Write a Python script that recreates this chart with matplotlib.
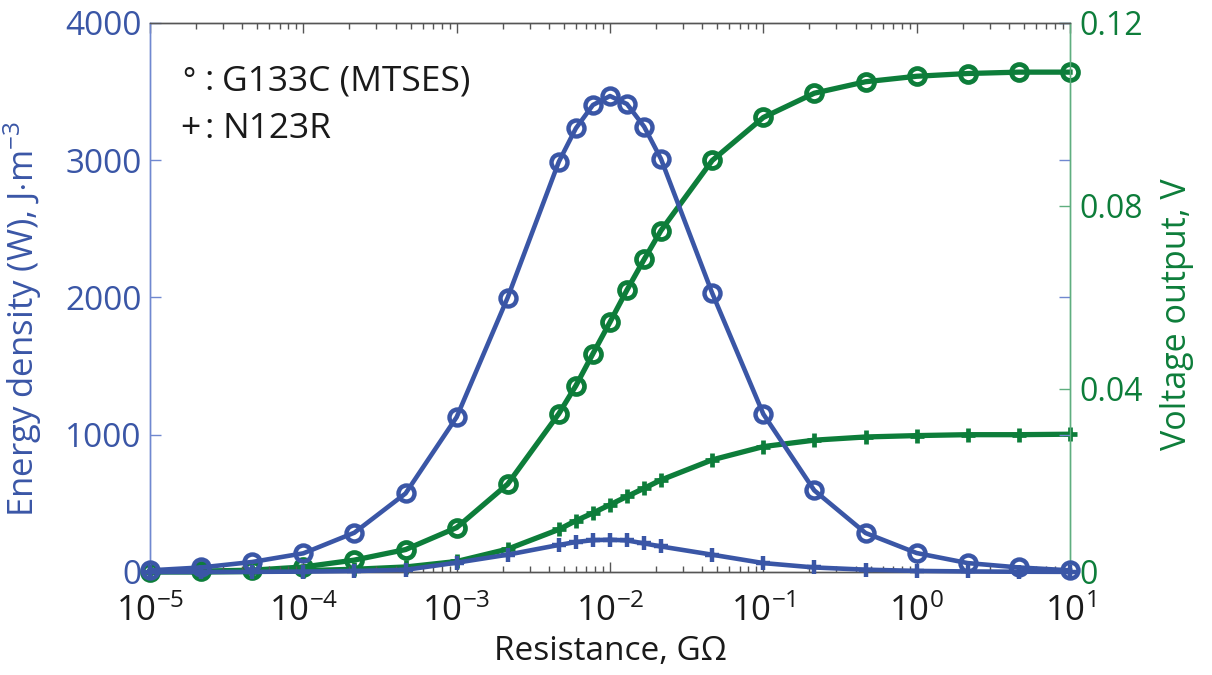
import math
import matplotlib
matplotlib.use("Agg")
import matplotlib.pyplot as plt
from matplotlib.ticker import LogLocator, FixedLocator, NullFormatter, FuncFormatter

# ---- data ----
resistance = [1e-5, 2.15e-5, 4.64e-5, 1e-4, 2.15e-4, 4.64e-4, 1e-3, 2.15e-3,
              4.64e-3, 5.99e-3, 7.74e-3, 1e-2, 1.29e-2, 1.67e-2, 2.15e-2,
              4.64e-2, 1e-1, 2.15e-1, 4.64e-1, 1.0, 2.15, 4.64, 10.0]
energy_g133c = [12, 33, 73, 136, 286, 572, 1128, 1998,
                2988, 3231, 3401, 3466, 3408, 3243, 3008,
                2031, 1150, 594, 284, 138, 65, 33, 12]
energy_n123r = [0.1, 0.3, 1, 3, 7, 16, 68, 126,
                197, 218, 232, 235, 230, 208, 186,
                126, 65, 33, 17, 8, 4, 2, 1]
voltage_g133c = [0.0001, 0.0002, 0.0004, 0.0011, 0.0026, 0.0049, 0.0097, 0.0192,
                 0.0346, 0.0407, 0.0477, 0.0546, 0.0616, 0.0683, 0.0746,
                 0.0899, 0.0993, 0.1046, 0.1071, 0.1083, 0.1089, 0.1092, 0.1092]
voltage_n123r = [0.0, 0.0, 0.0001, 0.0003, 0.0006, 0.0011, 0.0023, 0.0050,
                 0.0093, 0.0112, 0.0129, 0.0147, 0.0165, 0.0183, 0.0201,
                 0.0245, 0.0274, 0.0288, 0.0295, 0.0298, 0.0300, 0.0300, 0.0301]
x_major_ticks = [1e-5, 1e-4, 1e-3, 1e-2, 1e-1, 1, 10]
left_ticks = [0, 1000, 2000, 3000, 4000]
right_ticks = [0, 0.04, 0.08, 0.12]
right_tick_labels = ["0", "0.04", "0.08", "0.12"]

BLUE = "#3a56a6"
GREEN = "#0d7d3a"
TXT = "#1a1a1a"
FONT = "Open Sans"

plt.rcParams['font.family'] = [FONT, 'DejaVu Sans']
plt.rcParams['mathtext.fontset'] = 'custom'
plt.rcParams['mathtext.rm'] = FONT
plt.rcParams['mathtext.it'] = FONT
plt.rcParams['mathtext.sf'] = FONT

fig = plt.figure(figsize=(12.12, 6.75), dpi=100)
ax = fig.add_axes([150/1212, 1-572/675, 920/1212, (572-22.7)/675])
ax2 = ax.twinx()

ax.plot(resistance, energy_g133c, color=BLUE, lw=3.3, marker='o', ms=11.5,
        mfc='none', mec=BLUE, mew=3.2, zorder=3, clip_on=False)
ax.plot(resistance, energy_n123r, color=BLUE, lw=3.3, marker='+', ms=10,
        mec=BLUE, mew=3.2, zorder=3, clip_on=False)
ax2.plot(resistance, voltage_g133c, color=GREEN, lw=3.8, marker='o', ms=11.5,
         mfc='none', mec=GREEN, mew=3.4, zorder=3, clip_on=False)
ax2.plot(resistance, voltage_n123r, color=GREEN, lw=3.8, marker='+', ms=10,
         mec=GREEN, mew=3.4, zorder=3, clip_on=False)

ax.set_xscale('log')
ax.set_xlim(1e-5, 10)
ax.set_ylim(0, 4000)
ax2.set_ylim(0, 0.12)

# x ticks
ax.xaxis.set_major_locator(FixedLocator(x_major_ticks))
ax.xaxis.set_minor_locator(LogLocator(base=10, subs=range(2, 10)))
ax.xaxis.set_minor_formatter(NullFormatter())
ax.xaxis.set_major_formatter(FuncFormatter(
    lambda v, p: r"$\mathregular{10^{%d}}$" % round(math.log10(v))))
ax.tick_params(axis='x', which='major', direction='in', length=7, width=1,
               color='#555555', top=True, labelsize=25, labelcolor=TXT, pad=16)
ax.tick_params(axis='x', which='minor', direction='in', length=4, width=1,
               color='#555555', top=True)

# left y
ax.set_yticks(left_ticks)
ax.tick_params(axis='y', which='both', direction='in', length=8, width=1,
               color='#7088d0', labelcolor=BLUE, labelsize=24, right=True, pad=6)
ax2.set_yticks(right_ticks)
ax2.set_yticklabels(right_tick_labels)
ax2.tick_params(axis='y', direction='in', length=8, width=1, color='#5fae7f',
                labelcolor=GREEN, labelsize=23, pad=7)

for a in (ax, ax2):
    a.spines['top'].set_color('#555555')
    a.spines['bottom'].set_color('#555555')
    a.spines['left'].set_color('#7088d0')
    a.spines['right'].set_color('#5fae7f')
    for s in a.spines.values():
        s.set_linewidth(1)
ax.set_zorder(ax2.get_zorder() + 1)
ax.patch.set_visible(False)

ax.set_xlabel("Resistance, G\u03a9", fontsize=24, color=TXT, labelpad=4)
ax.set_ylabel(r"Energy density (W), J$\cdot$m$^{-3}$", fontsize=25, color=BLUE)
ax.yaxis.set_label_coords(-0.115, 0.46)
ax2.set_ylabel("Voltage output, V", fontsize=24.5, color=GREEN)
ax2.yaxis.set_label_coords(1.098, 0.47)

fs = 25.5
fig.text(182/1212, 1-90/675, "\u00b0", fontsize=22, color=TXT, va='baseline')
fig.text(204/1212, 1-90/675, ":", fontsize=fs, color=TXT, va='baseline')
fig.text(222/1212, 1-90/675, "G133C (MTSES)", fontsize=fs, color=TXT, va='baseline')
fig.text(180/1212, 1-138/675, "+", fontsize=fs, color=TXT, va='baseline')
fig.text(204/1212, 1-138/675, ":", fontsize=fs, color=TXT, va='baseline')
fig.text(222/1212, 1-138/675, "N123R", fontsize=fs, color=TXT, va='baseline')

fig.savefig("out.png", dpi=100)
